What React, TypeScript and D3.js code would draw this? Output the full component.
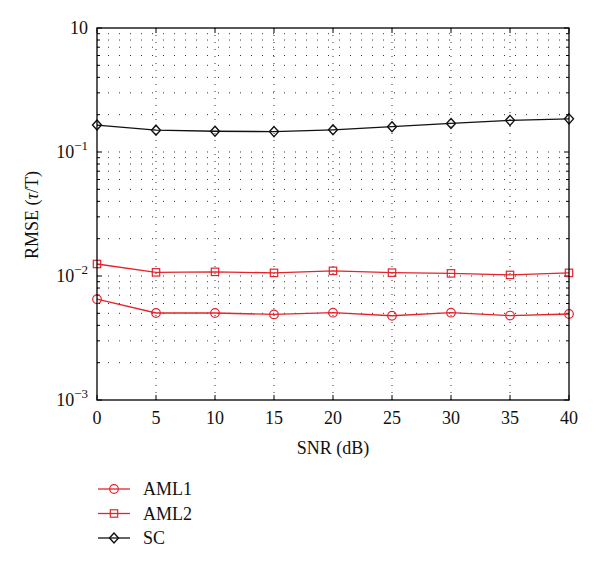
import React from "react";
import * as d3 from "d3";

const snr = [0, 5, 10, 15, 20, 25, 30, 35, 40];
const aml1 = [0.0065, 0.00503, 0.00503, 0.0049, 0.00506, 0.00478, 0.00506, 0.0048, 0.00494];
const aml2 = [0.0125, 0.0107, 0.0108, 0.0106, 0.011, 0.01064, 0.0105, 0.0102, 0.0106];
const sc = [0.165, 0.15, 0.147, 0.146, 0.151, 0.16, 0.17, 0.18, 0.185];
const xTicks = [0, 5, 10, 15, 20, 25, 30, 35, 40];
const yDecades = [1e-3, 1e-2, 1e-1, 1];
const yTickLabels = ["−3", "−2", "−1", ""];
const seriesNames = ["AML1", "AML2", "SC"];

const RED = "#e4232b";
const FONT = "'Liberation Serif', 'DejaVu Serif', serif";

export default function App() {
  const W = 600, H = 569;
  const left = 97, right = 569, top = 28, bottom = 400;
  const x = d3.scaleLinear().domain([0, 40]).range([left, right]);
  const y = d3.scaleLog().domain([1e-3, 1]).range([bottom, top]);

  const minor: number[] = [];
  for (let e = -3; e < 0; e++) {
    for (let m = 2; m <= 9; m++) minor.push(m * Math.pow(10, e));
  }

  const line = d3
    .line<number>()
    .x((_, i) => x(snr[i]))
    .y((d) => y(d));

  const series = [
    { name: seriesNames[0], data: aml1, color: RED, marker: "circle" },
    { name: seriesNames[1], data: aml2, color: RED, marker: "square" },
    { name: seriesNames[2], data: sc, color: "#111", marker: "diamond" },
  ];

  const marker = (type: string, cx: number, cy: number, color: string, key: any) => {
    if (type === "circle")
      return <circle key={key} cx={cx} cy={cy} r={4.3} fill="none" stroke={color} strokeWidth={1.2} />;
    if (type === "square")
      return <rect key={key} x={cx - 3.7} y={cy - 3.7} width={7.4} height={7.4} fill="none" stroke={color} strokeWidth={1.2} />;
    return (
      <path
        key={key}
        d={`M${cx},${cy - 5}L${cx + 4.5},${cy}L${cx},${cy + 5}L${cx - 4.5},${cy}Z`}
        fill="none"
        stroke={color}
        strokeWidth={1.4}
      />
    );
  };

  return (
    <svg width={W} height={H} style={{ position: "absolute", left: 0, top: 0, background: "#fff" }} fontFamily={FONT}>
      <rect x={0} y={0} width={W} height={H} fill="#fff" />
      {/* grid */}
      <g stroke="#333" strokeWidth={1} strokeDasharray="1,10" fill="none">
        {minor.concat(yDecades.slice(1, 3)).map((v, i) => (
          <line key={"h" + i} x1={left} x2={right} y1={y(v)} y2={y(v)} />
        ))}
        {xTicks.slice(1, -1).map((v, i) => (
          <line key={"v" + i} x1={x(v)} x2={x(v)} y1={top} y2={bottom} strokeDasharray="1,6" />
        ))}
      </g>
      {/* ticks */}
      <g stroke="#000" strokeWidth={1}>
        {yDecades.map((v, i) => (
          <g key={"yt" + i}>
            <line x1={left} x2={left + 5} y1={y(v)} y2={y(v)} />
            <line x1={right} x2={right - 5} y1={y(v)} y2={y(v)} />
          </g>
        ))}
        {minor.map((v, i) => (
          <g key={"ym" + i}>
            <line x1={left} x2={left + 3} y1={y(v)} y2={y(v)} />
            <line x1={right} x2={right - 3} y1={y(v)} y2={y(v)} />
          </g>
        ))}
        {xTicks.map((v, i) => (
          <g key={"xt" + i}>
            <line x1={x(v)} x2={x(v)} y1={bottom} y2={bottom - 5} />
            <line x1={x(v)} x2={x(v)} y1={top} y2={top + 5} />
          </g>
        ))}
      </g>
      {/* series */}
      {series.map((s, si) => (
        <g key={"s" + si}>
          <path d={line(s.data) || ""} fill="none" stroke={s.color} strokeWidth={1.3} />
          {s.data.map((d, i) => marker(s.marker, x(snr[i]), y(d), s.color, i))}
        </g>
      ))}
      {/* frame */}
      <rect x={left} y={top} width={right - left} height={bottom - top} fill="none" stroke="#000" strokeWidth={1.3} />
      {/* y tick labels */}
      {yDecades.map((v, i) => (
        <text key={"yl" + i} x={88} y={y(v) + 6} textAnchor="end" fontSize={18} fill="#111">
          10
          {yTickLabels[i] && (
            <tspan dy={-8} fontSize={13}>
              {yTickLabels[i]}
            </tspan>
          )}
        </text>
      ))}
      {/* x tick labels */}
      {xTicks.map((v, i) => (
        <text key={"xl" + i} x={x(v)} y={424} textAnchor="middle" fontSize={18} fill="#111">
          {v}
        </text>
      ))}
      <text x={x(20)} y={454} textAnchor="middle" fontSize={18} fill="#111">
        SNR (dB)
      </text>
      <text transform="translate(38,215) rotate(-90)" textAnchor="middle" fontSize={18} fill="#111">
        RMSE (<tspan fontStyle="italic">τ</tspan>/T)
      </text>
      {/* legend */}
      {series.map((s, i) => {
        const ly = 489 + i * 24.5;
        return (
          <g key={"lg" + i}>
            <line x1={98} x2={130} y1={ly} y2={ly} stroke={s.color} strokeWidth={1.3} />
            {marker(s.marker, 114, ly, s.color, "m")}
            <text x={143} y={ly + 6} fontSize={18} fill="#111">
              {s.name}
            </text>
          </g>
        );
      })}
    </svg>
  );
}
